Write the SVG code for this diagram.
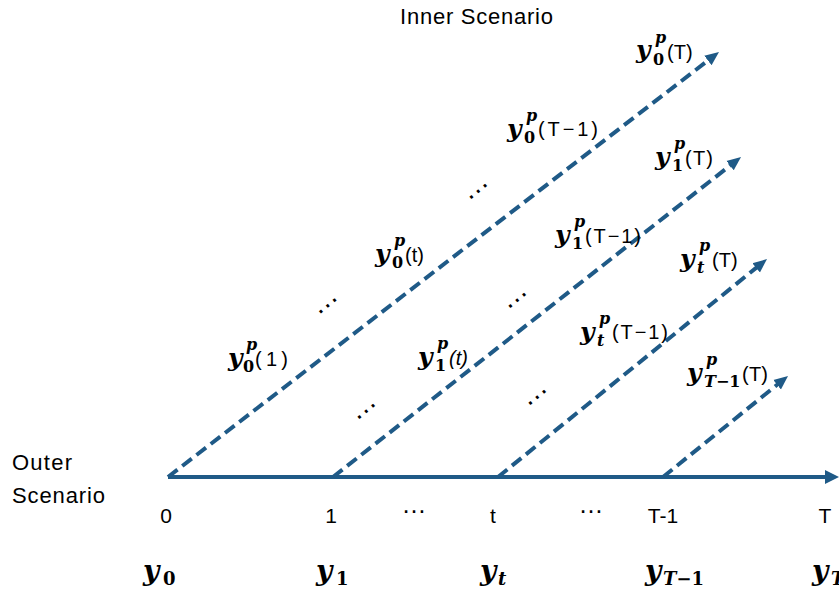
<svg xmlns="http://www.w3.org/2000/svg" width="839" height="592" viewBox="0 0 839 592">
<style>
.ax{stroke:#1F5A87;stroke-width:4;fill:none}
.da{stroke:#1F5A87;stroke-width:4;stroke-dasharray:12 6;fill:none;marker-end:url(#ah)}
.s{font-family:"Liberation Sans",Arial,sans-serif;font-size:20px;fill:#000}
.l{font-size:22px}
.m{font-family:"DejaVu Serif","Liberation Serif",serif;font-weight:bold;font-style:italic;font-size:25px;fill:#000}
.sp{font-size:16px}
.up{font-style:normal}
.b{font-size:28px}
.bs{font-size:18px}
.dot{font-family:"Liberation Sans",Arial,sans-serif;font-size:28px;fill:#000;text-anchor:middle}
</style>
<defs>
<marker id="ah" markerWidth="14" markerHeight="14" viewBox="0 0 14 14" refX="2" refY="7" orient="auto" markerUnits="userSpaceOnUse"><path d="M0,1 L14,7 L0,13 z" fill="#1F5A87"/></marker>
</defs>
<rect width="839" height="592" fill="#fff"/>
<g id="connectors">
<line class="ax" x1="168" y1="477" x2="827" y2="477"/>
<polygon points="825,470 839,477 825,484" fill="#1F5A87"/>
<line class="da" x1="168" y1="477" x2="709.5" y2="59.3"/>
<line class="da" x1="333" y1="477" x2="731.6" y2="164.4"/>
<line class="da" x1="498" y1="477" x2="757.7" y2="266.6"/>
<line class="da" x1="663" y1="477" x2="778.7" y2="383.5"/>
</g>
<g id="titles">
<text class="s l" x="400" y="24" textLength="153">Inner Scenario</text>
<text class="s l" x="12" y="470" textLength="60">Outer</text>
<text class="s l" x="12" y="503" textLength="93">Scenario</text>
</g>
<g id="ticks" class="s" text-anchor="middle" style="font-size:21px">
<text x="166" y="523">0</text>
<text x="331" y="523">1</text>
<text x="493" y="523">t</text>
<text x="663" y="523">T-1</text>
<text x="825" y="523">T</text>
</g>
<g id="hdots">
<text class="dot" x="414" y="513" style="font-size:25px">…</text>
<text class="dot" x="591" y="513" style="font-size:25px">…</text>
</g>
<g id="ddots">
<text class="dot" x="478" y="193" transform="rotate(-40 478 191)">…</text>
<text class="dot" x="327.5" y="307.5" transform="rotate(-40 327.5 305.5)">…</text>
<text class="dot" x="517" y="302" transform="rotate(-40 517 300)">…</text>
<text class="dot" x="366" y="413" transform="rotate(-40 366 411)">…</text>
<text class="dot" x="537" y="399" transform="rotate(-40 537 397)">…</text>
</g>
<g id="y0">
<text class="m b" x="143" y="580">y</text><text class="m bs up" x="163" y="585">0</text>
</g>
<g id="y1">
<text class="m b" x="316" y="580">y</text><text class="m bs up" x="336" y="585">1</text>
</g>
<g id="yt">
<text class="m b" x="480" y="580">y</text><text class="m bs" x="498" y="585">t</text>
</g>
<g id="yT1">
<text class="m b" x="645" y="580">y</text><text class="m bs" x="663" y="585">T<tspan class="up">−1</tspan></text>
</g>
<g id="yT">
<text class="m b" x="812" y="580">y</text><text class="m bs" x="831" y="585">T</text>
</g>
<g id="l0T">
<text class="m" x="636" y="58">y</text><text class="m sp" x="655" y="43">p</text><text class="m sp up" x="653" y="65">0</text><text class="s" x="667" y="59">(T)</text>
</g>
<g id="l0T1">
<text class="m" x="507" y="137">y</text><text class="m sp" x="526" y="121">p</text><text class="m sp up" x="524" y="143">0</text><text class="s" x="538" y="136" textLength="60">(T−1)</text>
</g>
<g id="l0t">
<text class="m" x="375" y="262">y</text><text class="m sp" x="394" y="246">p</text><text class="m sp up" x="392" y="268">0</text><text class="s" x="405" y="262">(t)</text>
</g>
<g id="l01">
<text class="m" x="228" y="366">y</text><text class="m sp" x="246" y="350">p</text><text class="m sp up" x="243" y="372">0</text><text class="s" x="255" y="366" textLength="33">(1)</text>
</g>
<g id="l1T">
<text class="m" x="655" y="165">y</text><text class="m sp" x="674" y="149">p</text><text class="m sp up" x="672" y="171">1</text><text class="s" x="685" y="165" textLength="28">(T)</text>
</g>
<g id="l1T1">
<text class="m" x="555" y="243">y</text><text class="m sp" x="574" y="227">p</text><text class="m sp up" x="572" y="249">1</text><text class="s" x="585" y="243" textLength="56">(T−1)</text>
</g>
<g id="l1t">
<text class="m" x="418" y="365">y</text><text class="m sp" x="437" y="349">p</text><text class="m sp up" x="435" y="371">1</text><text class="s" x="449" y="365" font-style="italic">(t)</text>
</g>
<g id="ltT">
<text class="m" x="680" y="267">y</text><text class="m sp" x="699" y="251">p</text><text class="m sp" x="697" y="273">t</text><text class="s" x="712" y="267">(T)</text>
</g>
<g id="ltT1">
<text class="m" x="580" y="340">y</text><text class="m sp" x="599" y="324">p</text><text class="m sp" x="597" y="346">t</text><text class="s" x="612" y="339" textLength="56">(T−1)</text>
</g>
<g id="lT1T">
<text class="m" x="687" y="381">y</text><text class="m sp" x="706" y="365">p</text><text class="m sp" x="704" y="387">T<tspan class="up">−1</tspan></text><text class="s" x="742" y="381" textLength="26">(T)</text>
</g>
</svg>
